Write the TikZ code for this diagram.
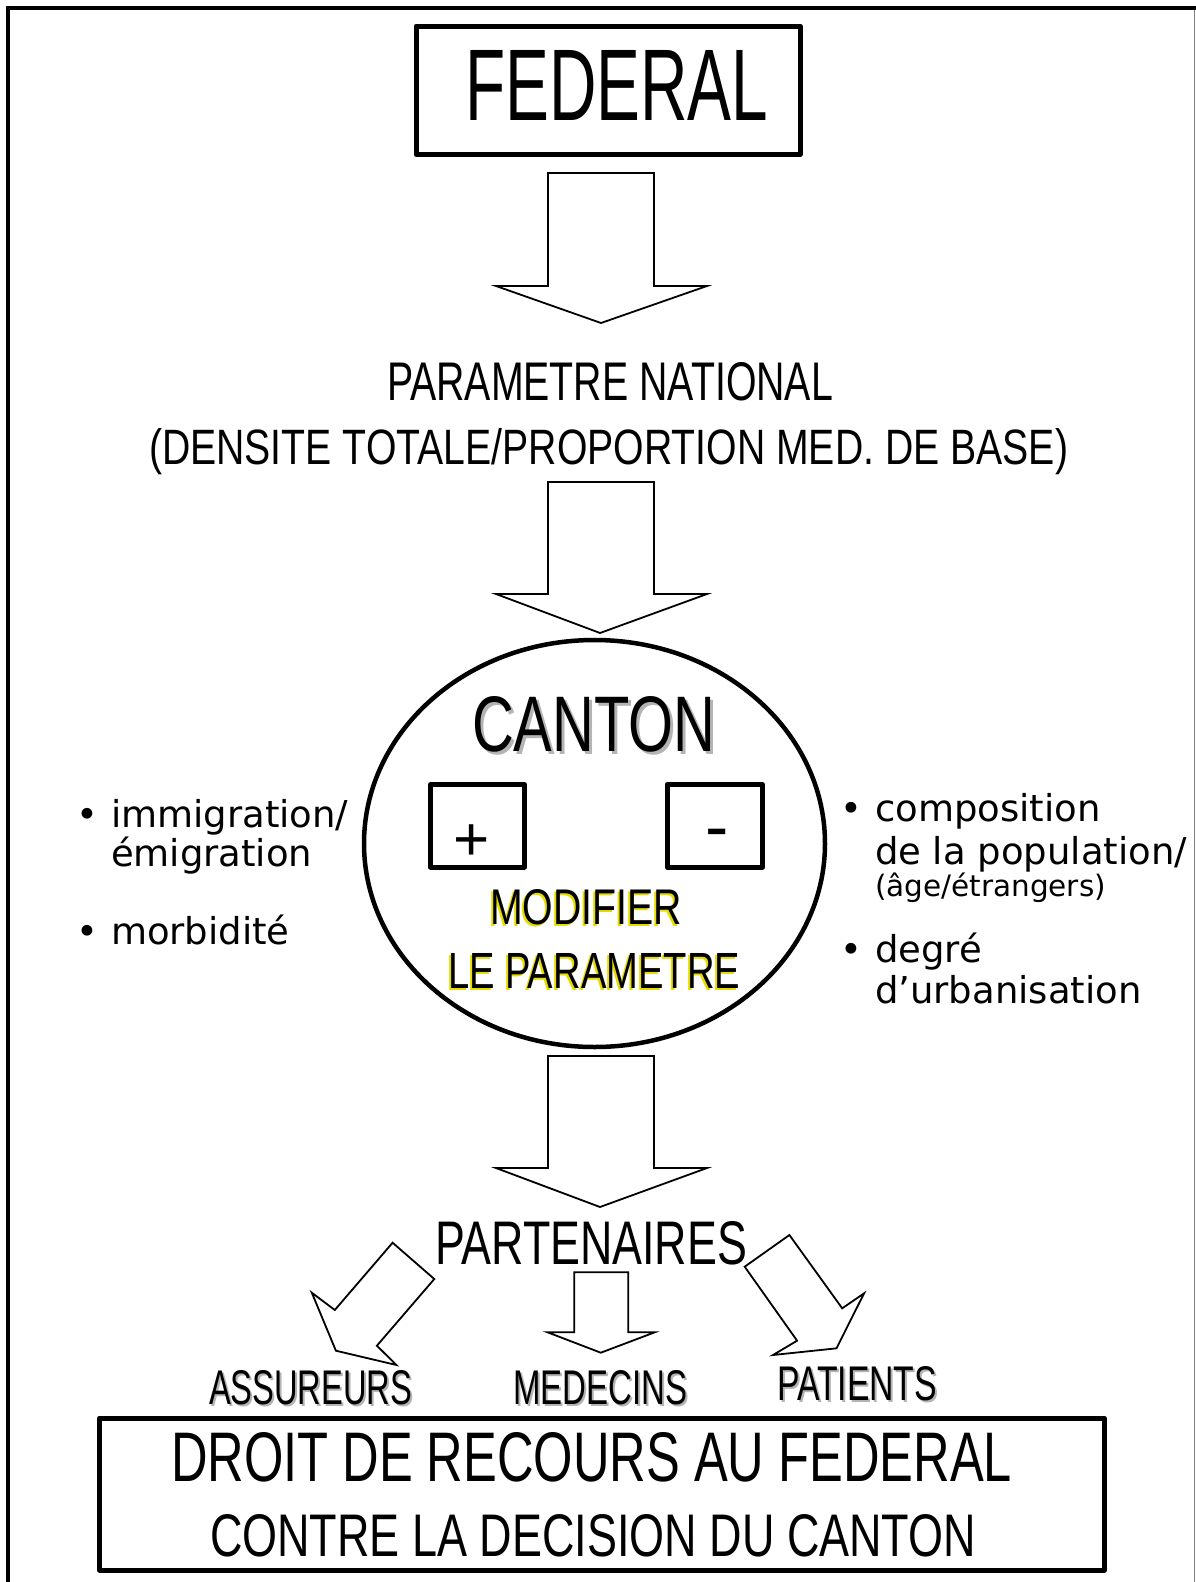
\documentclass[tikz,border=0pt]{standalone}
\usepackage{fontspec}
\usepackage{graphicx}
\setmainfont{Liberation Sans}
\newfontfamily\bulfont{DejaVu Sans}
\usetikzlibrary{shapes.geometric}
\newcommand{\capfit}[3]{\resizebox{#1pt}{#2pt}{#3}}
\definecolor{shadowgray}{HTML}{B4B4B4}
\definecolor{shadowyellow}{HTML}{E6DC00}
\tikzset{
  frameline/.style={line width=4pt, line cap=rect},
  thickbox/.style={draw, line width=5pt, inner sep=0pt, line join=round},
  blockarrow/.style={draw, line width=1.8pt, fill=white, line join=miter},
  lbl/.style={inner sep=0pt, outer sep=0pt, anchor=south west},
  bullettext/.style={inner sep=0pt, outer sep=0pt, anchor=base west, font=\bulfont\fontsize{37}{40}\selectfont},
  smalltext/.style={inner sep=0pt, outer sep=0pt, anchor=base west, font=\bulfont\fontsize{29.5}{32}\selectfont},
}
\begin{document}
\begin{tikzpicture}[x=1pt,y=-1pt]
\useasboundingbox (0,0) rectangle (1195,1582);
% outer frame
\coordinate (fl) at (8,1582);
\coordinate (ftl) at (8,8);
\coordinate (ftr) at (1195,8);
\draw[frameline] (fl) -- (ftl) -- (ftr);
\coordinate (frt) at (1194,10);
\coordinate (frb) at (1194,1582);
\draw[line width=1pt, gray] (frt) -- (frb);

% FEDERAL
\node[thickbox, minimum width=384pt, minimum height=128.5pt] (fed) at (608,90.25) {};
\node[lbl] (fedtxt) at (465,120) {\capfit{303}{70}{FEDERAL}};

% arrow 1
\draw[blockarrow] (548,173) -- (654,173) -- (654,286) -- (707,286) -- (601,323) -- (496,286) -- (548,286) -- cycle;

% national parameter
\node[lbl] (par1) at (387,401) {\capfit{446}{38}{PARAMETRE NATIONAL}};
\node[lbl, anchor=base west] (par2) at (149,464) {\capfit{919}{36}{(DENSITE TOTALE/PROPORTION MED. DE BASE)}};

% arrow 2
\draw[blockarrow] (548,482) -- (654,482) -- (654,594) -- (707,594) -- (600,633) -- (496,594) -- (548,594) -- cycle;

% canton ellipse
\node[draw, ellipse, line width=4.5pt, minimum width=461pt, minimum height=407pt, inner sep=0pt] (canton) at (594.5,843.5) {};
\node[lbl, text=shadowgray] (cantonsh) at (475,755) {\capfit{243}{55}{CANTON}};
\node[lbl] (cantontxt) at (472,752) {\capfit{243}{55}{CANTON}};

\node[thickbox, minimum width=94pt, minimum height=82.5pt] (plusbox) at (477.5,825.75) {};
\node[thickbox, minimum width=95.5pt, minimum height=82.5pt] (minusbox) at (714.75,825.75) {};
\node[inner sep=0pt, anchor=base, font=\fontsize{62}{62}\selectfont] (plus) at (472,860) {+};
\node[inner sep=0pt, anchor=base, font=\fontsize{70}{70}\selectfont] (minus) at (717,850) {-};

\node[lbl, text=shadowyellow] (modsh) at (488,927) {\capfit{192}{35}{MODIFIER}};
\node[lbl] (mod) at (490,925) {\capfit{192}{35}{MODIFIER}};
\node[lbl, text=shadowyellow] (lepsh) at (446,990) {\capfit{292}{35}{LE PARAMETRE}};
\node[lbl] (lep) at (448,988) {\capfit{292}{35}{LE PARAMETRE}};

% left factors
\node[bullettext] (b1) at (76,827) {•};
\node[bullettext] (imm) at (111,827) {immigration/};
\node[bullettext] (emi) at (111,866) {émigration};
\node[bullettext] (b2) at (76,944) {•};
\node[bullettext] (mor) at (111,944) {morbidité};

% right factors
\node[bullettext] (b3) at (840,821) {•};
\node[bullettext] (comp) at (875,821) {composition};
\node[bullettext] (pop) at (875,864) {de la population/};
\node[smalltext] (age) at (875,896) {(âge/étrangers)};
\node[bullettext] (b4) at (840,962) {•};
\node[bullettext] (deg) at (875,962) {degré};
\node[bullettext] (urb) at (875,1003) {d’urbanisation};

% arrow 3
\draw[blockarrow] (548,1056) -- (654,1056) -- (654,1168) -- (707,1168) -- (600,1207) -- (496,1168) -- (548,1168) -- cycle;

% partners
\node[lbl] (part) at (435,1265) {\capfit{312}{43}{PARTENAIRES}};

% diagonal and small arrows
\draw[blockarrow] (392.6,1242.7) -- (434.3,1279) -- (376.9,1345.7) -- (396.4,1365) -- (335.9,1350.7) -- (311.8,1292.7) -- (334.8,1310) -- cycle;
\draw[blockarrow] (574.3,1272.3) -- (628.3,1272.3) -- (628.3,1332.3) -- (654.7,1332.3) -- (600.8,1352.7) -- (547.6,1332.3) -- (574.3,1332.3) -- cycle;
\draw[blockarrow] (744.7,1266.7) -- (789.4,1235) -- (842.2,1308.3) -- (864.1,1293.3) -- (836.5,1348.3) -- (773,1355) -- (797.1,1340.7) -- cycle;

\node[lbl, text=shadowgray] (asssh) at (211,1407) {\capfit{203}{34}{ASSUREURS}};
\node[lbl] (ass) at (209,1405) {\capfit{203}{34}{ASSUREURS}};
\node[lbl, text=shadowgray] (medsh) at (515,1407) {\capfit{174}{34}{MEDECINS}};
\node[lbl] (med) at (513,1405) {\capfit{174}{34}{MEDECINS}};
\node[lbl, text=shadowgray] (patsh) at (779,1403) {\capfit{160}{34}{PATIENTS}};
\node[lbl] (pat) at (777,1401) {\capfit{160}{34}{PATIENTS}};

% bottom box
\node[thickbox, minimum width=1004.5pt, minimum height=152pt] (droit) at (601.75,1494) {};
\node[lbl] (droit1) at (171,1482) {\capfit{841}{49}{DROIT DE RECOURS AU FEDERAL}};
\node[lbl] (droit2) at (210,1557) {\capfit{766}{42}{CONTRE LA DECISION DU CANTON}};
\end{tikzpicture}
\end{document}
